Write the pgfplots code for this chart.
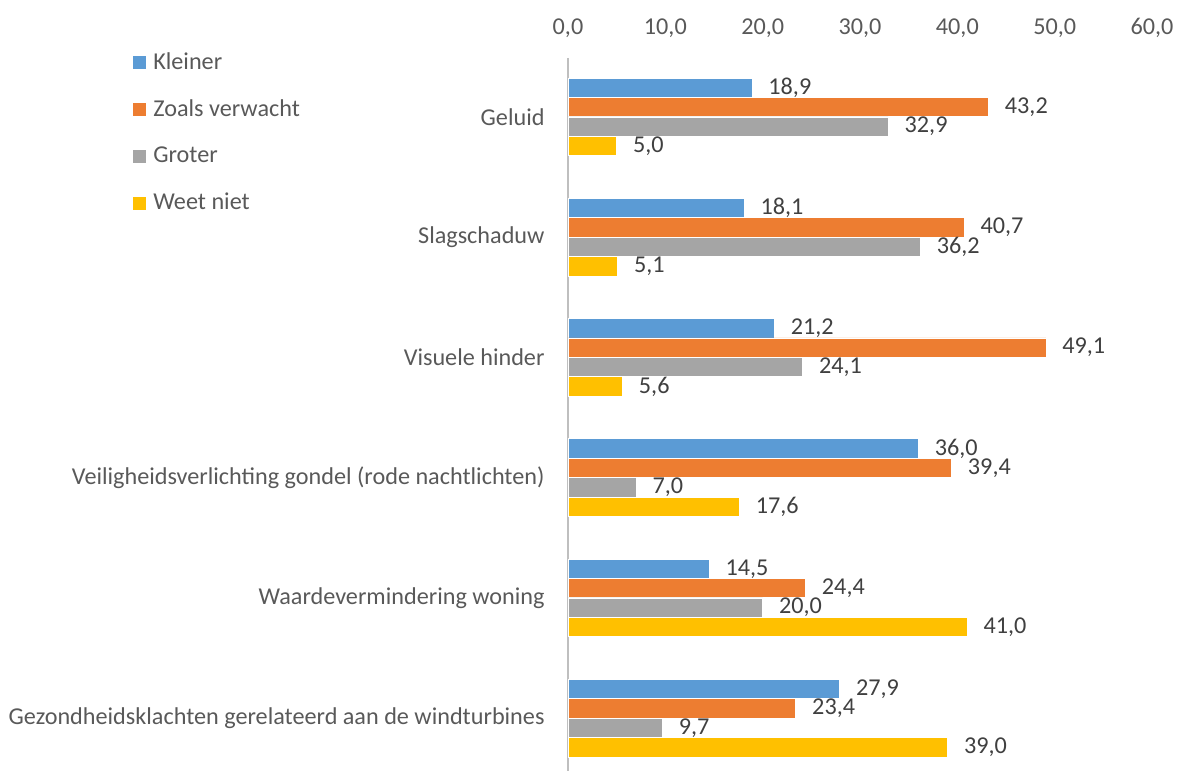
\documentclass[border=0pt]{standalone}
\usepackage{pgfplots}
\pgfplotsset{compat=1.18}
\usepackage{fontspec}
\setmainfont{Carlito}
\definecolor{cKl}{HTML}{5B9BD5}
\definecolor{cZo}{HTML}{ED7D31}
\definecolor{cGr}{HTML}{A5A5A5}
\definecolor{cWe}{HTML}{FFC000}
\definecolor{txt}{HTML}{595959}
\definecolor{lbl}{HTML}{404040}
\definecolor{axl}{HTML}{BFBFBF}
\newcommand{\fs}{\fontsize{12.1pt}{14pt}\selectfont}
\begin{document}
\fs
\begin{tikzpicture}
\path[use as bounding box] (0,0) rectangle (590.5pt,385.5pt);
\begin{axis}[
  at={(284pt,0pt)}, anchor=south west,
  scale only axis, width=292pt, height=356.5pt,
  xmin=0, xmax=60, ymin=-0.49, ymax=5.44,
  y dir=reverse,
  xbar, bar width=9.7pt, bar shift=0pt,
  axis x line*=top, axis y line*=left,
  x axis line style={draw=none},
  y axis line style={draw=axl, line width=0.6pt},
  xtick={0,10,...,60}, major tick length=0pt,
  xticklabel style={font=\fs, text=txt, yshift=6pt},
  xticklabel={\pgfmathprintnumber[fixed,fixed zerofill,precision=1,use comma]{\tick}},
  /pgf/number format/assume math mode=true,
  ytick={0,1,2,3,4,5},
  yticklabels={Geluid,Slagschaduw,Visuele hinder,Veiligheidsverlichting gondel (rode nachtlichten),Waardevermindering woning,Gezondheidsklachten gerelateerd aan de windturbines},
  yticklabel style={font=\fs, text=txt, xshift=-7.5pt},
  nodes near coords={\pgfmathprintnumber[fixed,fixed zerofill,precision=1,use comma,assume math mode=true]{\pgfplotspointmeta}},
  nodes near coords style={font=\fs, text=lbl, anchor=west, xshift=4pt},
  every axis plot/.append style={draw=white, line width=0.4pt},
  legend style={at={(-0.745,1.014)}, anchor=north west, draw=none, fill=none,
    font=\fs, text=txt, row sep=9.4pt, inner sep=0pt,
    nodes={inner xsep=3.5pt}},
  legend cell align=left,
  legend image code/.code={\fill[#1,draw=none] (0pt,-3.25pt) rectangle (6.5pt,3.25pt);},
  clip=false,
]
\addplot[fill=cKl] coordinates {(18.9,-0.242) (18.1,0.758) (21.2,1.758) (36.0,2.758) (14.5,3.758) (27.9,4.758)};
\addplot[fill=cZo] coordinates {(43.2,-0.081) (40.7,0.919) (49.1,1.919) (39.4,2.919) (24.4,3.919) (23.4,4.919)};
\addplot[fill=cGr] coordinates {(32.9,0.081) (36.2,1.081) (24.1,2.081) (7.0,3.081) (20.0,4.081) (9.7,5.081)};
\addplot[fill=cWe] coordinates {(5.0,0.242) (5.1,1.242) (5.6,2.242) (17.6,3.242) (41.0,4.242) (39.0,5.242)};
\legend{Kleiner,Zoals verwacht,Groter,Weet niet}
\end{axis}
\end{tikzpicture}
\end{document}
